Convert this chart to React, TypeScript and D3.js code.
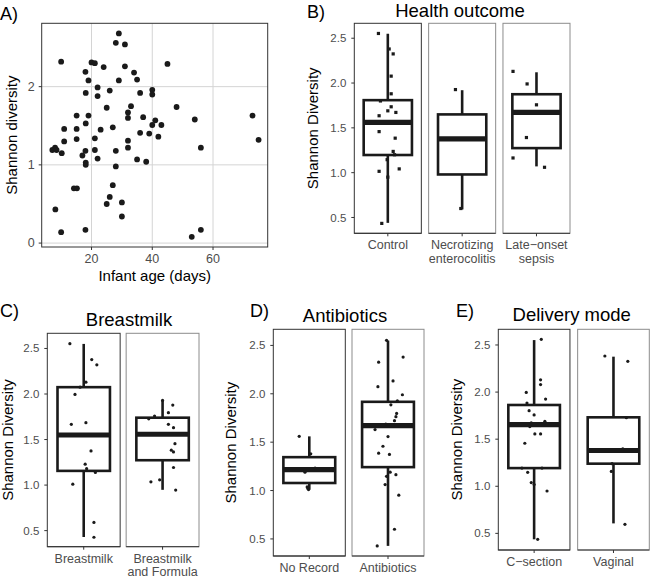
import React from 'react';
import * as d3 from 'd3';

const FONT = '"Liberation Sans", Arial, Helvetica, sans-serif';
const INK = '#1a1a1a';
const TICK_TXT = '#4d4d4d';

// ---------------- Panel A: diversity vs age ----------------
const ageDays = [
  7.1, 8.0, 8.5, 10.0, 10.2, 8.1, 10.0, 11.0, 11.0, 15.1, 15.1, 15.1, 14.2, 15.2, 17.0,
  18.0, 18.1, 18.1, 18.1, 18.0, 18.1, 19.0, 19.0, 18.0, 20.0, 21.1, 22.0, 22.0, 21.1, 21.1,
  22.0, 23.0, 24.0, 25.0, 26.0, 27.0, 28.0, 28.0, 27.0, 26.0, 25.0, 28.0, 29.0, 29.0, 31.0,
  31.0, 30.0, 30.0, 32.0, 32.0, 33.0, 32.0, 32.0, 34.0, 35.0, 36.0, 37.0, 36.0, 35.0, 38.0,
  39.0, 40.0, 40.0, 40.0, 41.0, 42.0, 43.0, 45.0, 48.0, 54.0, 56.0, 56.0, 53.0, 73.0, 75.0,
];
const shannonByAge = [
  1.19, 1.22, 1.19, 2.32, 1.15, 0.43, 0.14, 1.46, 1.30, 1.63, 1.46, 1.33, 0.70, 0.70, 1.12,
  1.18, 1.03, 1.00, 1.92, 2.19, 1.53, 1.63, 2.08, 0.17, 2.31, 2.30, 1.99, 1.88, 1.34, 1.19,
  1.08, 1.45, 2.25, 1.73, 1.95, 1.48, 1.18, 0.98, 0.74, 0.59, 0.50, 2.56, 2.68, 2.08, 2.54,
  2.26, 0.52, 0.34, 1.67, 1.60, 1.75, 1.31, 1.22, 2.18, 2.09, 1.92, 1.61, 1.41, 1.07, 1.04,
  1.40, 1.96, 1.90, 1.51, 1.57, 1.36, 1.51, 2.29, 1.74, 1.58, 1.22, 0.17, 0.08, 1.63, 1.32,
];
const ageTicks = [20, 40, 60];
const shannonTicksA = [0, 1, 2];

// ---------------- Box panels shared ----------------
const boxTicks = [0.5, 1.0, 1.5, 2.0, 2.5];
const boxDomain: [number, number] = [0.3235, 2.6665];

// B) Health outcome
const healthCats = [['Control'], ['Necrotizing', 'enterocolitis'], ['Late\u2212onset', 'sepsis']];
const healthQ1 = [1.197, 0.98, 1.274];
const healthMedian = [1.562, 1.377, 1.672];
const healthQ3 = [1.809, 1.65, 1.875];
const healthLow = [0.44, 0.59, 1.07];
const healthHigh = [2.55, 1.92, 2.12];
const healthValues = [
  [2.553, 2.38, 2.325, 2.077, 1.88, 1.80, 1.735, 1.69, 1.672, 1.635, 1.458, 1.385, 1.237, 1.20, 1.145, 1.042, 1.015, 0.95, 0.434],
  [1.927, 0.60],
  [2.13, 1.99, 1.757, 1.392, 1.164, 1.06],
];
const healthJitter = [
  [-0.14, 0.02, 0.08, 0.05, 0.05, -0.11, 0.05, 0, 0.12, -0.13, -0.13, 0.11, 0.08, 0.10, -0.01, 0.17, -0.13, 0, -0.09],
  [-0.10, -0.02],
  [-0.35, -0.14, 0, -0.15, -0.35, 0.12],
];

// C) Breastmilk
const milkCats = [['Breastmilk'], ['Breastmilk', 'and Formula']];
const milkQ1 = [1.156, 1.273];
const milkMedian = [1.55, 1.558];
const milkQ3 = [2.075, 1.74];
const milkLow = [0.43, 0.948];
const milkHigh = [2.55, 1.933];
const milkValues = [
  [2.553, 2.378, 2.32, 2.13, 2.075, 1.995, 1.667, 1.685, 1.375, 1.23, 1.18, 1.138, 1.01, 0.59, 0.427],
  [1.93, 1.878, 1.795, 1.758, 1.728, 1.667, 1.63, 1.455, 1.383, 1.364, 1.193, 1.058, 1.036, 0.945],
];
const milkJitter = [
  [-0.19, 0.11, 0.18, 0.03, -0.05, -0.12, -0.17, 0.03, 0.10, 0.02, 0.04, 0.16, -0.15, 0.14, 0.14],
  [0, 0.14, 0.08, -0.11, -0.19, 0.08, 0.15, 0.17, 0.12, 0.15, 0.15, -0.04, -0.16, 0.18],
];

// D) Antibiotics
const abxCats = [['No Record'], ['Antibiotics']];
const abxQ1 = [1.078, 1.242];
const abxMedian = [1.216, 1.67];
const abxQ3 = [1.345, 1.917];
const abxLow = [1.01, 0.428];
const abxHigh = [1.56, 2.55];
const abxValues = [
  [1.56, 1.38, 1.232, 1.19, 1.037, 1.02, 1.01],
  [2.553, 2.379, 2.327, 2.133, 2.074, 1.99, 1.927, 1.886, 1.797, 1.763, 1.722, 1.688, 1.63, 1.558, 1.458, 1.386, 1.373, 1.19, 1.147, 1.164, 1.062, 0.952, 0.60, 0.428],
];
const abxJitter = [
  [-0.14, 0.02, 0.08, -0.06, -0.03, -0.02, -0.01],
  [-0.02, 0.21, -0.13, 0.07, -0.14, 0.20, 0.13, 0.04, 0.12, 0.11, 0.09, -0.03, -0.18, 0, -0.07, -0.13, 0.02, 0.03, -0.02, 0.11, -0.04, 0.15, 0.09, -0.15],
];

// E) Delivery mode
const deliveryCats = [['C\u2212section'], ['Vaginal']];
const deliveryQ1 = [1.193, 1.24];
const deliveryMedian = [1.655, 1.38];
const deliveryQ3 = [1.863, 1.732];
const deliveryLow = [0.437, 0.606];
const deliveryHigh = [2.552, 2.376];
const deliveryValues = [
  [2.56, 2.13, 2.08, 1.996, 1.926, 1.884, 1.803, 1.757, 1.69, 1.668, 1.673, 1.634, 1.556, 1.556, 1.457, 1.193, 1.193, 1.148, 1.039, 1.018, 0.95, 0.437],
  [2.383, 2.327, 1.728, 1.398, 1.24, 1.158, 0.596],
];
const deliveryJitter = [
  [0.10, 0.09, 0.09, -0.11, 0.16, -0.10, -0.07, 0, 0.15, 0.14, -0.04, -0.06, 0.01, 0.09, -0.13, -0.17, 0.11, -0.09, -0.04, 0, 0.18, 0.05],
  [-0.12, 0.20, 0.18, 0.13, -0.02, -0.03, 0.16],
];

// ---------------- Components ----------------
function ScatterPanel() {
  const left = 41.7, right = 267.7, top = 23.3, bottom = 247;
  const x = d3.scaleLinear().domain([3.6, 78]).range([left, right]);
  const y = d3.scaleLinear().domain([-0.05, 2.81]).range([bottom, top]);
  return (
    <g>
      <text x={0} y={20} fontSize={18} fill="#000">A)</text>
      <rect x={left} y={top} width={right - left} height={bottom - top} fill="#fff" />
      {ageTicks.map((t) => (
        <line key={'gx' + t} x1={x(t)} x2={x(t)} y1={top} y2={bottom} stroke="#d4d4d4" strokeWidth={1} />
      ))}
      {shannonTicksA.map((t) => (
        <line key={'gy' + t} x1={left} x2={right} y1={y(t)} y2={y(t)} stroke="#d4d4d4" strokeWidth={1} />
      ))}
      {ageDays.map((d, i) => (
        <circle key={i} cx={x(d)} cy={y(shannonByAge[i])} r={2.9} fill={INK} />
      ))}
      <rect x={left} y={top} width={right - left} height={bottom - top} fill="none" stroke="#333" strokeWidth={1} />
      {ageTicks.map((t) => (
        <g key={'tx' + t}>
          <line x1={x(t)} x2={x(t)} y1={bottom} y2={bottom + 3} stroke="#333" />
          <text x={x(t)} y={bottom + 16} textAnchor="middle" fontSize={12.5} fill={TICK_TXT}>{t}</text>
        </g>
      ))}
      {shannonTicksA.map((t) => (
        <g key={'ty' + t}>
          <line x1={left - 3} x2={left} y1={y(t)} y2={y(t)} stroke="#333" />
          <text x={left - 7} y={y(t)} dy="0.35em" textAnchor="end" fontSize={12.5} fill={TICK_TXT}>{t}</text>
        </g>
      ))}
      <text x={(left + right) / 2} y={281} textAnchor="middle" fontSize={15} fill="#000">Infant age (days)</text>
      <text transform={`translate(17,${(top + bottom) / 2}) rotate(-90)`} textAnchor="middle" fontSize={15} fill="#000">Shannon diversity</text>
    </g>
  );
}

type BoxPanelProps = {
  letter: string; letterX: number; letterY: number;
  title: string; titleX: number; titleY: number;
  left: number; right: number; top: number; bottom: number; gap: number;
  yTitleX: number;
  cats: string[][];
  q1: number[]; med: number[]; q3: number[]; lo: number[]; hi: number[];
  values: number[][]; jitter: number[][];
  square?: boolean;
};

function BoxPanel(p: BoxPanelProps) {
  const n = p.cats.length;
  const bwApprox = (p.right - p.left - p.gap * (n - 1)) / n;
  const x = d3.scaleBand<number>().domain(d3.range(n)).range([p.left, p.right]).paddingInner(p.gap / (bwApprox + p.gap));
  const y = d3.scaleLinear().domain(boxDomain).range([p.bottom, p.top]);
  const bw = x.bandwidth();
  const half = bw * 0.36;
  const lw = 2.6;
  return (
    <g>
      <text x={p.letterX} y={p.letterY} fontSize={18} fill="#000">{p.letter}</text>
      <text x={p.titleX} y={p.titleY} textAnchor="middle" fontSize={18.5} fill="#000">{p.title}</text>
      {p.cats.map((c, i) => {
        const x0 = x(i)!;
        const cx = x0 + bw / 2;
        return (
          <g key={i}>
            <rect x={x0} y={p.top} width={bw} height={p.bottom - p.top} fill="#fff" stroke={i === 0 ? '#333' : '#8c8c8c'} strokeWidth={1} />
            <line x1={x0} x2={x0 + bw} y1={p.bottom} y2={p.bottom} stroke="#333" strokeWidth={1} />
            <line x1={cx} x2={cx} y1={y(p.q3[i])} y2={y(p.hi[i])} stroke={INK} strokeWidth={lw} />
            <line x1={cx} x2={cx} y1={y(p.q1[i])} y2={y(p.lo[i])} stroke={INK} strokeWidth={lw} />
            <rect x={cx - half} y={y(p.q3[i])} width={half * 2} height={y(p.q1[i]) - y(p.q3[i])} fill="#fff" stroke={INK} strokeWidth={lw} />
            <line x1={cx - half} x2={cx + half} y1={y(p.med[i])} y2={y(p.med[i])} stroke={INK} strokeWidth={lw * 2} />
            {p.values[i].map((v, j) => {
              const px = cx + p.jitter[i][j] * bw;
              const py = y(v);
              return p.square ? (
                <rect key={j} x={px - 1.6} y={py - 1.6} width={3.2} height={3.2} fill={INK} />
              ) : (
                <circle key={j} cx={px} cy={py} r={1.6} fill={INK} />
              );
            })}
            <line x1={cx} x2={cx} y1={p.bottom} y2={p.bottom + 3} stroke="#333" />
            {c.map((line, k) => (
              <text key={k} x={cx} y={p.bottom + 16 + k * 13.5} textAnchor="middle" fontSize={12.5} fill={TICK_TXT}>{line}</text>
            ))}
          </g>
        );
      })}
      {boxTicks.map((t) => (
        <g key={t}>
          <line x1={p.left - 3} x2={p.left} y1={y(t)} y2={y(t)} stroke="#333" />
          <text x={p.left - 8} y={y(t)} dy="0.35em" textAnchor="end" fontSize={11.5} fill={TICK_TXT}>{t.toFixed(1)}</text>
        </g>
      ))}
      <text transform={`translate(${p.yTitleX},${(p.top + p.bottom) / 2}) rotate(-90)`} textAnchor="middle" fontSize={15} fill="#000">Shannon Diversity</text>
    </g>
  );
}

export default function App() {
  return (
    <svg width={650} height={580} style={{ position: 'absolute', left: 0, top: 0, background: '#fff' }} fontFamily={FONT}>
      <rect x={0} y={0} width={650} height={580} fill="#fff" />
      <ScatterPanel />
      <BoxPanel
        letter="B)" letterX={307} letterY={18}
        title="Health outcome" titleX={460} titleY={16.5}
        left={354.3} right={570} top={23.3} bottom={233.3} gap={7.3}
        yTitleX={318}
        cats={healthCats} q1={healthQ1} med={healthMedian} q3={healthQ3} lo={healthLow} hi={healthHigh}
        values={healthValues} jitter={healthJitter} square
      />
      <BoxPanel
        letter="C)" letterX={0} letterY={316.5}
        title="Breastmilk" titleX={129} titleY={325.7}
        left={47.3} right={199} top={333.3} bottom={546.7} gap={6}
        yTitleX={12.5}
        cats={milkCats} q1={milkQ1} med={milkMedian} q3={milkQ3} lo={milkLow} hi={milkHigh}
        values={milkValues} jitter={milkJitter}
      />
      <BoxPanel
        letter="D)" letterX={250} letterY={316.5}
        title="Antibiotics" titleX={345} titleY={321.7}
        left={273.3} right={424} top={329.3} bottom={556} gap={6.7}
        yTitleX={236}
        cats={abxCats} q1={abxQ1} med={abxMedian} q3={abxQ3} lo={abxLow} hi={abxHigh}
        values={abxValues} jitter={abxJitter}
      />
      <BoxPanel
        letter="E)" letterX={456} letterY={316.5}
        title="Delivery mode" titleX={571.7} titleY={321}
        left={498.3} right={649.3} top={329.3} bottom={550} gap={7.7}
        yTitleX={462}
        cats={deliveryCats} q1={deliveryQ1} med={deliveryMedian} q3={deliveryQ3} lo={deliveryLow} hi={deliveryHigh}
        values={deliveryValues} jitter={deliveryJitter}
      />
    </svg>
  );
}
